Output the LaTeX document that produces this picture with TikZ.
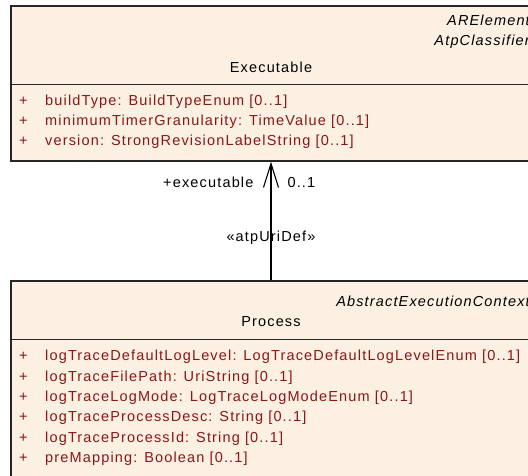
\documentclass[tikz,border=0pt]{standalone}
\usepackage{fontspec}
\setmainfont[LetterSpace=8]{Liberation Sans}
\usetikzlibrary{arrows.meta,positioning}
\definecolor{classfill}{RGB}{251,240,226}
\definecolor{attrred}{RGB}{140,22,22}
\newcommand{\umlsize}{\fontsize{14.5pt}{20pt}\selectfont}
\tikzset{
  classbox/.style={draw=black!85,line width=1.3pt,fill=classfill,minimum width=520pt,inner sep=0pt},
  sepline/.style={draw=black!85,line width=1.3pt},
  attr/.style={anchor=base west,text=attrred,inner sep=0pt},
  stereo/.style={anchor=base east,inner sep=0pt,font=\umlsize\itshape},
  cname/.style={anchor=base,inner sep=0pt},
  assoc/.style={line width=1.1pt,-{Straight Barb[length=24pt,width=15pt]}},
  every node/.style={font=\umlsize}
}
\begin{document}
\begin{tikzpicture}[x=1pt,y=-1pt]
\useasboundingbox (0,0) rectangle (528,476);
\clip (0,0) rectangle (528,476);

\node[classbox,minimum height=155pt] (exe) at (271,83.5) {};
\draw[sepline] ([yshift=-79pt]exe.north west) -- ([yshift=-79pt]exe.north east);
\node[stereo] (exest1) at (530,25.5) {ARElement};
\node[stereo] (exest2) at (530,46) {AtpClassifier};
\node[cname] (exename) at (271,72.3) {Executable};
\foreach \txt [count=\i] in {buildType: BuildTypeEnum [0..1],
  minimumTimerGranularity: TimeValue [0..1],
  version: StrongRevisionLabelString [0..1]} {
  \node[attr] (exeplus\i) at (19,86+20*\i) {+};
  \node[attr] (exeattr\i) at (45,86+20*\i) {\txt};
}

\node[classbox,minimum height=219pt] (proc) at (271,390.5) {};
\draw[sepline] ([yshift=-59pt]proc.north west) -- ([yshift=-59pt]proc.north east);
\node[stereo] (procst) at (530,306.5) {AbstractExecutionContext};
\node[cname] (procname) at (271,326.5) {Process};
\foreach \txt [count=\i] in {logTraceDefaultLogLevel: LogTraceDefaultLogLevelEnum [0..1],
  logTraceFilePath: UriString [0..1],
  logTraceLogMode: LogTraceLogModeEnum [0..1],
  logTraceProcessDesc: String [0..1],
  logTraceProcessId: String [0..1],
  preMapping: Boolean [0..1]} {
  \node[attr] (procplus\i) at (19,340.2+20.4*\i) {+};
  \node[attr] (procattr\i) at (45,340.2+20.4*\i) {\txt};
}

% association
\draw[assoc] (proc.north) -- (exe.south)
  node[midway,anchor=base,inner sep=0pt,yshift=-21pt] (stereoassoc) {«atpUriDef»}
  node[at end,anchor=base east,inner sep=0pt,xshift=-17pt,yshift=-26pt] (role) {+executable}
  node[at end,anchor=base west,inner sep=0pt,xshift=16pt,yshift=-26pt] (mult) {0..1};
\end{tikzpicture}
\end{document}
